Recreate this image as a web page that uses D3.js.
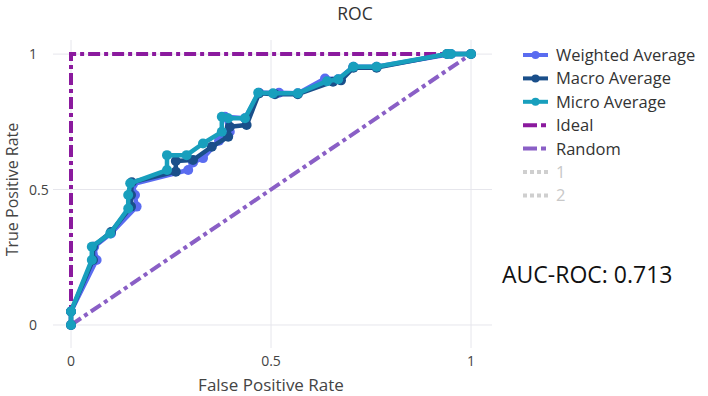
<!DOCTYPE html>
<html>
<head>
<meta charset="utf-8">
<script src="https://cdn.jsdelivr.net/npm/d3@7"></script>
<style>
  body { margin: 0; background: #fff; }
  svg { display: block; font-family: 'Open Sans', 'Noto Sans', sans-serif; }
</style>
</head>
<body>
<div id="chart"></div>
<script>
// ROC data: [fpr, tpr]
const weightedAvg = [
  [0, 0], [0, 0.05], [0.064, 0.24], [0.058, 0.289], [0.1, 0.338],
  [0.164, 0.437], [0.16, 0.48], [0.155, 0.52], [0.293, 0.572], [0.305, 0.6],
  [0.33, 0.616], [0.37, 0.68], [0.397, 0.713], [0.385, 0.769], [0.435, 0.763],
  [0.47, 0.857], [0.52, 0.857], [0.567, 0.855], [0.635, 0.91], [0.668, 0.907],
  [0.706, 0.953], [0.764, 0.953], [0.95, 1], [1, 1],
]
const macroAvg = [
  [0, 0], [0, 0.05], [0.055, 0.24], [0.055, 0.289], [0.1, 0.343],
  [0.15, 0.437], [0.15, 0.48], [0.152, 0.527], [0.262, 0.566], [0.262, 0.605],
  [0.305, 0.609], [0.352, 0.658], [0.393, 0.695], [0.397, 0.732], [0.439, 0.738],
  [0.47, 0.855], [0.51, 0.852], [0.567, 0.852], [0.655, 0.898], [0.675, 0.903],
  [0.706, 0.95], [0.764, 0.95], [0.94, 1], [1, 1],
]
const microAvg = [
  [0, 0], [0, 0.05], [0.052, 0.24], [0.052, 0.289], [0.098, 0.338],
  [0.143, 0.43], [0.143, 0.48], [0.148, 0.523], [0.24, 0.572], [0.24, 0.627],
  [0.289, 0.627], [0.33, 0.67], [0.377, 0.713], [0.377, 0.769], [0.393, 0.763],
  [0.435, 0.763], [0.468, 0.857], [0.505, 0.855], [0.567, 0.855], [0.64, 0.9],
  [0.668, 0.907], [0.706, 0.953], [0.764, 0.953], [0.94, 1], [0.95, 1], [1, 1],
]
const ideal = [[0, 0], [0, 1], [1, 1]]
const random = [[0, 0], [1, 1]]

const xTicks = [0, 0.5, 1]
const yTicks = [0, 0.5, 1]
const aucText = 'AUC-ROC: 0.713'

const curves = [
  { name: 'Weighted Average', data: weightedAvg, color: '#5a6cf0' },
  { name: 'Macro Average', data: macroAvg, color: '#1a4f8a' },
  { name: 'Micro Average', data: microAvg, color: '#189fbd' },
]
const refLines = [
  { name: 'Ideal', data: ideal, color: '#8b1a9e' },
  { name: 'Random', data: random, color: '#8a5fc6' },
]
const hiddenNames = ['1', '2']

const width = 708
const height = 396
const plot = { left: 53, right: 492, top: 40, bottom: 348 }

const svg = d3
  .select('#chart')
  .append('svg')
  .attr('width', width)
  .attr('height', height)

const x = d3.scaleLinear().domain([-0.045, 1.0525]).range([plot.left, plot.right])
const y = d3.scaleLinear().domain([-0.085, 1.052]).range([plot.bottom, plot.top])

// grid
const grid = svg.append('g').attr('stroke', '#e6e6ec').attr('stroke-width', 1)
grid
  .selectAll('.vx')
  .data(xTicks)
  .join('line')
  .attr('x1', d => x(d))
  .attr('x2', d => x(d))
  .attr('y1', plot.top)
  .attr('y2', plot.bottom)
grid
  .selectAll('.hy')
  .data(yTicks)
  .join('line')
  .attr('y1', d => y(d))
  .attr('y2', d => y(d))
  .attr('x1', plot.left)
  .attr('x2', plot.right)

// tick labels
svg
  .append('g')
  .selectAll('text')
  .data(xTicks)
  .join('text')
  .attr('x', d => x(d))
  .attr('y', 366)
  .attr('text-anchor', 'middle')
  .attr('font-size', 14)
  .attr('fill', '#444')
  .text(d => d)
svg
  .append('g')
  .selectAll('text')
  .data(yTicks)
  .join('text')
  .attr('x', 29)
  .attr('y', d => y(d) + 5)
  .attr('text-anchor', 'start')
  .attr('font-size', 14)
  .attr('fill', '#444')
  .text(d => d)

// axis titles
svg
  .append('text')
  .attr('x', x(0.5))
  .attr('y', 390.5)
  .attr('text-anchor', 'middle')
  .attr('font-size', 17)
  .attr('fill', '#444')
  .text('False Positive Rate')
svg
  .append('text')
  .attr('transform', `translate(17.5, ${y(0.5)}) rotate(-90)`)
  .attr('text-anchor', 'middle')
  .attr('font-size', 16)
  .attr('fill', '#444')
  .text('True Positive Rate')

svg
  .append('text')
  .attr('x', 355)
  .attr('y', 19.5)
  .attr('text-anchor', 'middle')
  .attr('font-size', 17.5)
  .attr('fill', '#333')
  .text('ROC')

const line = d3
  .line()
  .x(d => x(d[0]))
  .y(d => y(d[1]))

// reference lines
svg
  .append('g')
  .selectAll('path')
  .data(refLines)
  .join('path')
  .attr('d', d => line(d.data))
  .attr('fill', 'none')
  .attr('stroke', d => d.color)
  .attr('stroke-width', 4)
  .attr('stroke-dasharray', '12,4,4,4')

// curves
const curveGroups = svg
  .append('g')
  .selectAll('g')
  .data(curves)
  .join('g')
curveGroups
  .append('path')
  .attr('d', d => line(d.data))
  .attr('fill', 'none')
  .attr('stroke', d => d.color)
  .attr('stroke-width', 4.5)
  .attr('stroke-linejoin', 'round')
curveGroups
  .selectAll('circle')
  .data(d => d.data.map(p => ({ p, color: d.color })))
  .join('circle')
  .attr('cx', d => x(d.p[0]))
  .attr('cy', d => y(d.p[1]))
  .attr('r', 5)
  .attr('fill', d => d.color)

// legend
const legendItems = [
  ...curves.map(d => ({ ...d, kind: 'marker' })),
  ...refLines.map(d => ({ ...d, kind: 'dashdot' })),
  ...hiddenNames.map(n => ({ name: n, color: '#cfcfcf', kind: 'dot' })),
]
const legend = svg
  .append('g')
  .selectAll('g')
  .data(legendItems)
  .join('g')
  .attr('transform', (d, i) => `translate(523, ${55 + i * 23.4})`)
legend
  .append('line')
  .attr('x1', 0)
  .attr('x2', 25)
  .attr('stroke', d => d.color)
  .attr('stroke-width', 4)
  .attr('stroke-dasharray', d =>
    d.kind === 'dashdot' ? '14,4,5,20' : d.kind === 'dot' ? '4,3' : null,
  )
legend
  .filter(d => d.kind === 'marker')
  .append('circle')
  .attr('cx', 12.5)
  .attr('r', 4)
  .attr('fill', d => d.color)
legend
  .append('text')
  .attr('x', 33)
  .attr('y', 6)
  .attr('font-size', 16.5)
  .attr('fill', d => (d.kind === 'dot' ? '#c8c8c8' : '#333'))
  .text(d => d.name)

svg
  .append('text')
  .attr('x', 502)
  .attr('y', 283)
  .attr('font-size', 23)
  .attr('fill', '#111')
  .text(aucText)
</script>
</body>
</html>
